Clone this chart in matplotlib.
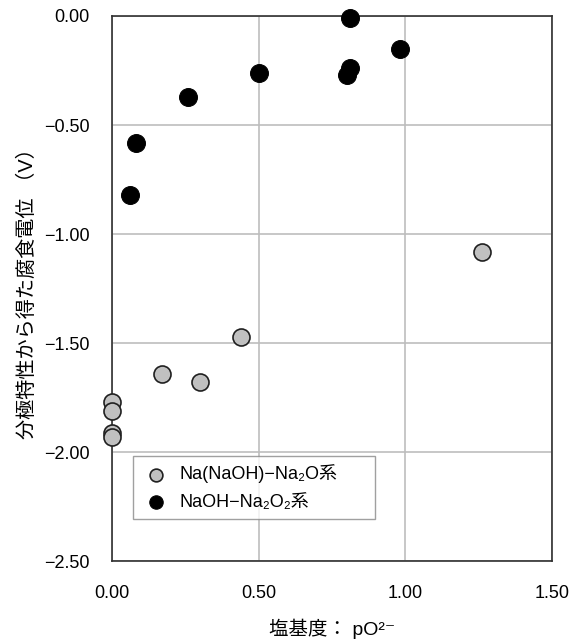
import matplotlib
matplotlib.use("Agg")
import matplotlib.pyplot as plt
from matplotlib.ticker import FuncFormatter

plt.rcParams['font.family'] = ['Liberation Sans', 'Noto Sans CJK JP', 'DejaVu Sans']

# Na(NaOH)-Na2O series
gray_x = [0.00, 0.00, 0.00, 0.00, 0.17, 0.30, 0.44, 1.26]
gray_y = [-1.77, -1.81, -1.91, -1.93, -1.64, -1.68, -1.47, -1.08]
# NaOH-Na2O2 series
black_x = [0.06, 0.08, 0.26, 0.50, 0.81, 0.81, 0.80, 0.98]
black_y = [-0.82, -0.58, -0.37, -0.26, -0.01, -0.24, -0.27, -0.15]

x_ticks = [0.0, 0.5, 1.0, 1.5]
y_ticks = [0.0, -0.5, -1.0, -1.5, -2.0, -2.5]
label_gray = "Na(NaOH)\u2212Na\u2082O系"
label_black = "NaOH\u2212Na\u2082O\u2082系"

fig = plt.figure(figsize=(5.75, 6.4), dpi=100)
ax = fig.add_axes([0.195, 0.123, 0.765, 0.852])

ax.scatter(gray_x, gray_y, s=150, facecolor='#c0c0c0', edgecolor='#202020',
           linewidth=1.2, zorder=3, label=label_gray, clip_on=False)
ax.scatter(black_x, black_y, s=165, facecolor='black', edgecolor='black',
           linewidth=0.8, zorder=3, label=label_black, clip_on=False)

ax.set_xlim(0, 1.5)
ax.set_ylim(-2.5, 0)
ax.set_xticks(x_ticks)
ax.set_yticks(y_ticks)
fmt = FuncFormatter(lambda v, p: ("%.2f" % v).replace('-', '\u2212') if abs(v) > 1e-9 else "0.00")
ax.xaxis.set_major_formatter(fmt)
ax.yaxis.set_major_formatter(fmt)
ax.tick_params(length=0, labelsize=13, colors='black')
ax.tick_params(axis='x', pad=17)
ax.tick_params(axis='y', pad=16)
ax.grid(True, color='#bdbdbd', linewidth=1.2)
ax.set_axisbelow(True)
for s in ax.spines.values():
    s.set_color('#303030')
    s.set_linewidth(1.2)

ax.set_xlabel("塩基度： pO\u00b2\u207b", fontsize=14, labelpad=12)
ax.set_ylabel("分極特性から得た腐食電位 （V）", fontsize=14.5, labelpad=5)

leg = ax.legend(loc='lower left', bbox_to_anchor=(0.048, 0.077, 0.549, 0.114),
                mode='expand', fontsize=13, frameon=True, fancybox=False,
                edgecolor='#888888', handletextpad=0.5, handlelength=1.6,
                borderaxespad=0, labelspacing=0.6, scatterpoints=1,
                markerscale=0.75, borderpad=0.45)
leg.get_frame().set_linewidth(1.0)

fig.savefig("out.png", dpi=100)
